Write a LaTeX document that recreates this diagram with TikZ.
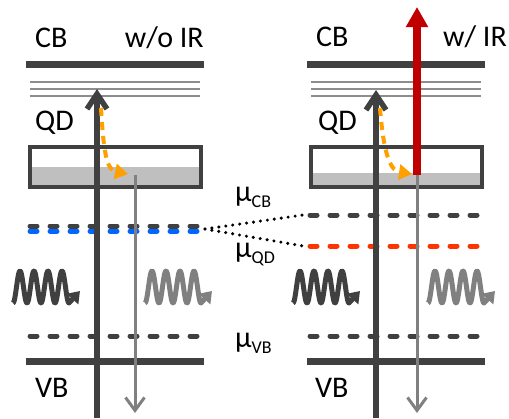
\documentclass[tikz,border=0pt]{standalone}
\usepackage{fontspec}
\setmainfont{Carlito}
\usepackage{xcolor}
\usetikzlibrary{arrows.meta, calc}
\definecolor{darkline}{HTML}{404040}
\definecolor{midgray}{HTML}{808080}
\definecolor{boxfill}{HTML}{BFBFBF}
\definecolor{qdorange}{HTML}{FFA000}
\definecolor{irred}{HTML}{C00000}
\definecolor{qdblue}{HTML}{0066FF}
\definecolor{qdred}{HTML}{FF3300}
\tikzset{
  band/.style  = {line width=7pt, darkline},
  level/.style = {line width=1.8pt, midgray!90},
  qdbox/.style = {line width=4pt, darkline},
  quasi/.style = {line width=5pt, line cap=round, dash pattern=on 7pt off 13pt},
  pump/.style  = {line width=5.5pt, darkline, -{Straight Barb[width=20pt,length=15pt]}},
  emit/.style  = {line width=3pt, midgray, -{Straight Barb[width=19pt,length=13pt]}},
  relax/.style = {line width=4pt, qdorange, dash pattern=on 8pt off 6pt, -{Triangle[width=15pt,length=13pt]}},
  ir/.style    = {line width=7.5pt, irred, -{Triangle[width=21pt,length=20pt]}},
  wave/.style  = {line width=5pt, line join=round, -{Triangle[width=15pt,length=11pt]}},
  lbl/.style   = {anchor=base west, inner sep=0pt, font=\fontsize{30}{36}\selectfont},
  guide/.style = {line width=3.4pt, line cap=round, dash pattern=on 0pt off 7pt},
}
\newcommand{\musub}[1]{μ\raisebox{-6pt}{\fontsize{18}{18}\selectfont #1}}

\begin{document}
\begin{tikzpicture}[x=1pt, y=-1pt]
  \useasboundingbox (0,0) rectangle (509,418);

  % Labels
  \node[lbl] (cbL) at (35,47) {CB};
  \node[lbl, anchor=base east] (woir) at (204,47) {w/o IR};
  \node[lbl] (cbR) at (316,46) {CB};
  \node[lbl, anchor=base east] (wir) at (507,46) {w/ IR};
  \node[lbl] (qdL) at (35,130) {QD};
  \node[lbl] (qdR) at (318,130) {QD};
  \node[lbl] (vbL) at (35,397) {VB};
  \node[lbl] (vbR) at (315,397) {VB};
  \node[lbl] (muCB) at (235,201) {\musub{CB}};
  \node[lbl] (muQD) at (235,257) {\musub{QD}};
  \node[lbl] (muVB) at (235,347) {\musub{VB}};

  % Bands and QD levels
  \foreach \x/\w in {26/204, 307/485} {
    \draw[band] (\x,64.5) -- (\w,64.5);
    \draw[band] (\x,361.5) -- (\w,361.5);
    \foreach \y in {82,89,96}
      \draw[level] (\x+4,\y) -- (\w-4,\y);
  }

  % QD boxes
  \fill[boxfill] (30,167) rectangle (201,187);
  \fill[boxfill] (311,173) rectangle (482,187);
  \draw[qdbox] (30,147) rectangle (201,187);
  \draw[qdbox] (311,147) rectangle (482,187);

  % Quasi-Fermi levels
  \draw[quasi, darkline] (30,226) -- (198,226);
  \draw[quasi, qdblue] (30,231) -- (198,231);
  \draw[quasi, darkline] (30,336) -- (198,336);
  \draw[quasi, darkline] (310,215) -- (480,215);
  \draw[quasi, qdred] (310,246) -- (480,246);
  \draw[quasi, darkline] (310,336) -- (480,336);

  % Dotted guides
  \coordinate (fork) at (205,229);
  \coordinate (toCB) at (303,215);
  \coordinate (toQD) at (303,246);
  \draw[guide] (fork) -- (toCB);
  \draw[guide] (fork) -- (toQD);

  % Left panel arrows
  \coordinate (pL0) at (97,418);
  \coordinate (pL1) at (97,89);
  \coordinate (eL0) at (135,175);
  \coordinate (eL1) at (135,413);
  \draw[pump] (pL0) -- (pL1);
  \draw[emit] (eL0) -- (eL1);
  \draw[relax] (101,108) .. controls (104,160) and (108,170) .. (128,174);

  % Right panel arrows
  \coordinate (pR0) at (376,418);
  \coordinate (pR1) at (376,90);
  \coordinate (eR0) at (417,175);
  \coordinate (eR1) at (417,413);
  \coordinate (irTip) at (417,7);
  \draw[pump] (pR0) -- (pR1);
  \draw[emit] (eR0) -- (eR1);
  \draw[relax] (380,108) .. controls (384,160) and (392,171) .. (412,174);
  \draw[ir] (eR0) -- (irTip);

  % Photons
  \foreach \wx/\wc in {13/darkline, 145/midgray, 293/darkline, 428/midgray}
    \draw[wave, \wc] plot[domain=0:4, samples=120, smooth] ({\wx+14*\x}, {287+16*cos(\x*360)}) -- ++(11,-12);

\end{tikzpicture}
\end{document}
